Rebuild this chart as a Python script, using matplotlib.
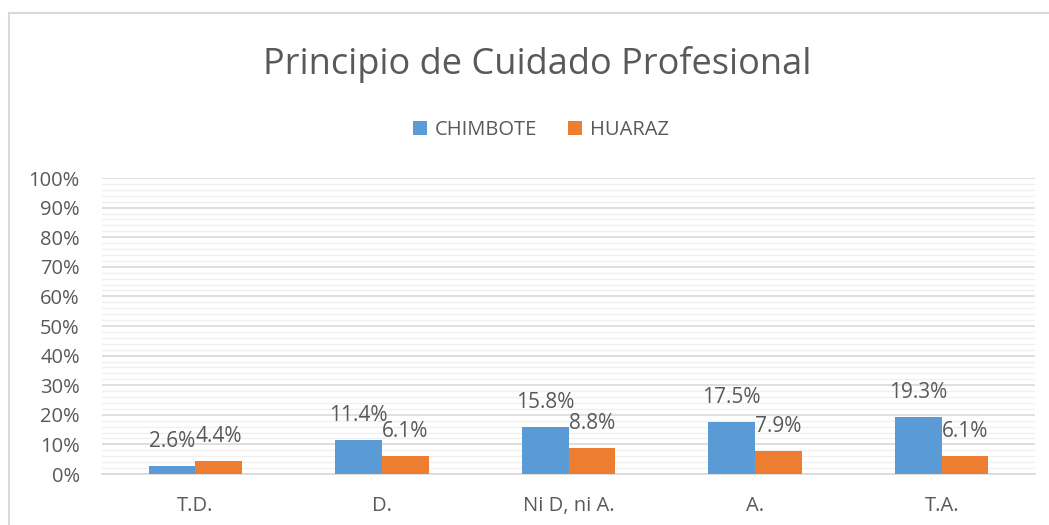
import matplotlib
matplotlib.use("Agg")
import matplotlib.pyplot as plt
from matplotlib.patches import Rectangle
from matplotlib.ticker import MultipleLocator, PercentFormatter
import numpy as np

categories = ["T.D.", "D.", "Ni D, ni A.", "A.", "T.A."]
chimbote = [2.6, 11.4, 15.8, 17.5, 19.3]
huaraz = [4.4, 6.1, 8.8, 7.9, 6.1]
series_names = ["CHIMBOTE", "HUARAZ"]
title = "Principio de Cuidado Profesional"

BLUE = "#5B9BD5"
ORANGE = "#ED7D31"
TXT = "#595959"

plt.rcParams['font.family'] = ['Open Sans', 'DejaVu Sans']

fig = plt.figure(figsize=(10.49, 5.25), dpi=100)
ax = fig.add_axes([102/1049, 51/525, (1035-102)/1049, (474-178)/525])

x = np.arange(len(categories))
w = 0.25
b1 = ax.bar(x - w/2, chimbote, w, color=BLUE, label=series_names[0], zorder=3)
b2 = ax.bar(x + w/2, huaraz, w, color=ORANGE, label=series_names[1], zorder=3)

for bars, vals in ((b1, chimbote), (b2, huaraz)):
    for r, v in zip(bars, vals):
        ax.annotate(f"{v:.1f}%", (r.get_x() + r.get_width()/2, v),
                    xytext=(0, 10), textcoords="offset points",
                    ha="center", va="bottom", fontsize=15, color=TXT, zorder=4)

ax.set_xlim(-0.5, len(categories) - 0.5)
ax.set_ylim(0, 100)
ax.yaxis.set_major_locator(MultipleLocator(10))
ax.yaxis.set_minor_locator(MultipleLocator(2))
ax.yaxis.set_major_formatter(PercentFormatter(decimals=0))
ax.grid(axis="y", which="major", color="#D9D9D9", linewidth=1.2, zorder=1)
ax.grid(axis="y", which="minor", color="#F0F0F0", linewidth=1.0, zorder=0)
ax.set_axisbelow(True)
ax.set_xticks(x)
ax.set_xticklabels(categories)
ax.tick_params(axis="both", which="both", length=0, labelsize=14.5, colors=TXT)
ax.tick_params(axis="y", pad=16)
ax.tick_params(axis="x", pad=16)
for s in ("top", "right", "left"):
    ax.spines[s].set_visible(False)
ax.spines["bottom"].set_color("#D9D9D9")
ax.spines["bottom"].set_linewidth(1.2)

fig.text(537/1049, 1 - 64/525, title, ha="center", va="center",
         fontsize=26, color=TXT)

leg = fig.legend(handles=[b1, b2], labels=series_names, loc="center",
                 bbox_to_anchor=(541/1049, 1 - 130/525), ncol=2, frameon=False,
                 fontsize=14.5, labelcolor=TXT, handlelength=0.7, handleheight=0.7,
                 handletextpad=0.4, columnspacing=1.5)

fig.patches.append(Rectangle((9/1049, -0.1), 1.2, 1 - 13/525 + 0.1,
                             transform=fig.transFigure, fill=False,
                             edgecolor="#D9D9D9", linewidth=1.5, zorder=0))

fig.savefig("out.png", dpi=100, facecolor="white")
